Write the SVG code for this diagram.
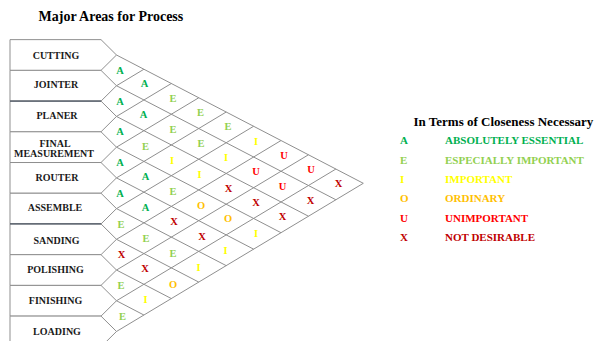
<svg xmlns="http://www.w3.org/2000/svg" width="596" height="341" viewBox="0 0 596 341">
<style>
.bg{fill:#ffffff}
.box{fill:#ffffff;stroke:#8f8f8f;stroke-width:1}
.dark{stroke:#4f5866;stroke-width:1.2}
.grid line{stroke:#8f8f8f;stroke-width:1}
.lbl{font-family:"Liberation Serif","Times New Roman",serif;font-weight:bold;font-size:10px;fill:#1a1a1a;text-anchor:middle}
.rel{font-family:"Liberation Serif","Times New Roman",serif;font-weight:bold;font-size:10.5px;text-anchor:middle}
.leg{font-family:"Liberation Serif","Times New Roman",serif;font-weight:bold;font-size:11px}
.title{font-family:"Liberation Serif","Times New Roman",serif;font-weight:bold;fill:#000}
.A{fill:#00b050}.E{fill:#92d050}.I{fill:#ffff00}.O{fill:#ffc000}.U{fill:#ff0000}.X{fill:#c00000}
</style>
<rect class="bg" x="0" y="0" width="596" height="341"/>
<text class="title" x="38.5" y="21" font-size="14">Major Areas for Process</text>

<g id="cutting"><path class="box" d="M10,39.64 H101 L116.5,55 L101,70.36 H10 Z"/><text class="lbl" x="56" y="58.5">CUTTING</text></g>
<g id="jointer"><path class="box" d="M10,70.36 H101 L116.5,85.72 L101,101.08 H10 Z"/><text class="lbl" x="56" y="88">JOINTER</text></g>
<g id="planer"><path class="box" d="M10,101.08 H101 L116.5,116.44 L101,131.8 H10 Z"/><text class="lbl" x="57" y="118.5">PLANER</text></g>
<g id="final-measurement"><path class="box" d="M10,131.8 H101 L116.5,147.16 L101,162.52 H10 Z"/><text class="lbl" x="55" y="146.5">FINAL</text><text class="lbl" x="54" y="156.7" font-size="9.5">MEASUREMENT</text></g>
<g id="router"><path class="box" d="M10,162.52 H101 L116.5,177.88 L101,193.24 H10 Z"/><text class="lbl" x="57" y="180.5">ROUTER</text></g>
<g id="assemble"><path class="box" d="M10,193.24 H101 L116.5,208.6 L101,223.96 H10 Z"/><text class="lbl" x="55" y="211">ASSEMBLE</text></g>
<g id="sanding"><path class="box" d="M10,223.96 H101 L116.5,239.32 L101,254.68 H10 Z"/><text class="lbl" x="56.5" y="244">SANDING</text></g>
<g id="polishing"><path class="box" d="M10,254.68 H101 L116.5,270.04 L101,285.4 H10 Z"/><text class="lbl" x="55.5" y="272.5">POLISHING</text></g>
<g id="finishing"><path class="box" d="M10,285.4 H101 L116.5,300.76 L101,316.12 H10 Z"/><text class="lbl" x="55.5" y="303.5">FINISHING</text></g>
<g id="loading"><path class="box" d="M10,316.12 H101 L116.5,331.48 L101,346.84 H10 Z"/><text class="lbl" x="57" y="335">LOADING</text></g>
<line class="dark" x1="10" y1="101.08" x2="101" y2="101.08"/>
<line class="dark" x1="10" y1="223.96" x2="101" y2="223.96"/>

<g id="connectors" class="grid">
<line x1="116.5" y1="55" x2="363.3" y2="183.3"/>
<line x1="116.5" y1="85.72" x2="335.88" y2="199.77"/>
<line x1="116.5" y1="116.44" x2="308.46" y2="216.23"/>
<line x1="116.5" y1="147.16" x2="281.03" y2="232.7"/>
<line x1="116.5" y1="177.88" x2="253.61" y2="249.17"/>
<line x1="116.5" y1="208.6" x2="226.19" y2="265.64"/>
<line x1="116.5" y1="239.32" x2="198.77" y2="282.1"/>
<line x1="116.5" y1="270.04" x2="171.35" y2="298.57"/>
<line x1="116.5" y1="300.76" x2="143.92" y2="315.04"/>
<line x1="116.5" y1="85.72" x2="143.92" y2="69.25"/>
<line x1="116.5" y1="116.44" x2="171.34" y2="83.51"/>
<line x1="116.5" y1="147.16" x2="198.77" y2="97.76"/>
<line x1="116.5" y1="177.88" x2="226.19" y2="112.02"/>
<line x1="116.5" y1="208.6" x2="253.61" y2="126.28"/>
<line x1="116.5" y1="239.32" x2="281.03" y2="140.53"/>
<line x1="116.5" y1="270.04" x2="308.46" y2="154.79"/>
<line x1="116.5" y1="300.76" x2="335.88" y2="169.04"/>
<line x1="116.5" y1="331.48" x2="363.3" y2="183.3"/>
</g>

<g id="ratings" class="rel">
<text class="A" x="120" y="74">A</text>
<text class="A" x="120" y="104.5">A</text>
<text class="A" x="120" y="135">A</text>
<text class="A" x="120" y="165.5">A</text>
<text class="A" x="120" y="196.5">A</text>
<text class="E" x="121" y="227.5">E</text>
<text class="X" x="121.5" y="258">X</text>
<text class="E" x="121" y="289">E</text>
<text class="E" x="122.5" y="319.5">E</text>

<text class="A" x="144.5" y="87">A</text>
<text class="E" x="173" y="101.5">E</text>
<text class="E" x="200.5" y="115.5">E</text>
<text class="E" x="228" y="130">E</text>
<text class="I" x="256" y="144.5">I</text>
<text class="U" x="284" y="158.5">U</text>
<text class="U" x="311" y="173">U</text>
<text class="X" x="338.5" y="187">X</text>

<text class="A" x="143.5" y="118">A</text>
<text class="E" x="173" y="132.5">E</text>
<text class="E" x="201" y="146.5">E</text>
<text class="I" x="226" y="161">I</text>
<text class="U" x="256" y="175">U</text>
<text class="U" x="282.5" y="189.5">U</text>
<text class="X" x="310.5" y="203.5">X</text>

<text class="E" x="145.5" y="149.5">E</text>
<text class="I" x="172" y="163.5">I</text>
<text class="I" x="199.5" y="177.5">I</text>
<text class="X" x="228.5" y="192">X</text>
<text class="X" x="256" y="206">X</text>
<text class="X" x="282.5" y="220">X</text>

<text class="A" x="145.5" y="180">A</text>
<text class="E" x="173" y="194.5">E</text>
<text class="O" x="201" y="208.5">O</text>
<text class="O" x="228" y="222">O</text>
<text class="I" x="256" y="237">I</text>

<text class="A" x="145.5" y="210.5">A</text>
<text class="X" x="174" y="225">X</text>
<text class="X" x="202" y="239.5">X</text>
<text class="I" x="225.5" y="254">I</text>

<text class="E" x="146" y="242">E</text>
<text class="E" x="173" y="256.5">E</text>
<text class="I" x="198.5" y="270.5">I</text>

<text class="X" x="145" y="272">X</text>
<text class="O" x="173" y="287.5">O</text>

<text class="I" x="145.5" y="303">I</text>
</g>

<g id="legend">
<text class="title" x="413.5" y="125.5" font-size="13">In Terms of Closeness Necessary</text>
<text class="leg A" x="400" y="144">A</text><text class="leg A" x="445" y="144">ABSOLUTELY ESSENTIAL</text>
<text class="leg E" x="400" y="163.5">E</text><text class="leg E" x="445" y="163.5">ESPECIALLY IMPORTANT</text>
<text class="leg I" x="400" y="183">I</text><text class="leg I" x="445" y="183">IMPORTANT</text>
<text class="leg O" x="400" y="202.3">O</text><text class="leg O" x="445" y="202.3">ORDINARY</text>
<text class="leg U" x="400" y="221.7">U</text><text class="leg U" x="445" y="221.7">UNIMPORTANT</text>
<text class="leg X" x="400" y="240.7">X</text><text class="leg X" x="445" y="240.7">NOT DESIRABLE</text>
</g>
</svg>
